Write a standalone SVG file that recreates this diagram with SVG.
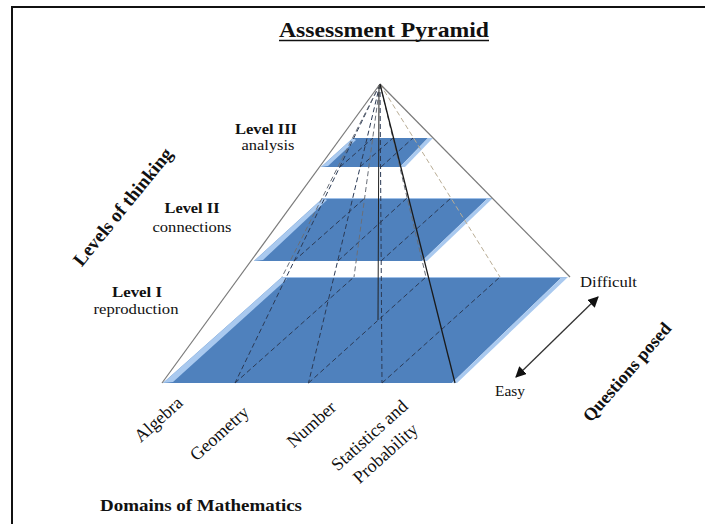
<svg xmlns="http://www.w3.org/2000/svg" width="705" height="524" viewBox="0 0 705 524">
<defs>
<style>
.t{font-family:"Liberation Serif","Times New Roman",serif;fill:#111}
.b{font-weight:bold}
.slab{fill:#4f81bd}
.bev{fill:#a9c9ef}
.dk{fill:none;stroke:#2b3a55;stroke-width:1;stroke-dasharray:5 3}
.lt{fill:none;stroke:#b9ad95;stroke-width:1;stroke-dasharray:5 3}
.gr{fill:none;stroke:#6a6f78;stroke-width:1;stroke-dasharray:5 3}
.edge{fill:none;stroke:#7a7a7a;stroke-width:1.2}
</style>
<marker id="ah" viewBox="0 0 10 10" refX="9" refY="5" markerWidth="11" markerHeight="11" markerUnits="userSpaceOnUse" orient="auto-start-reverse">
<path d="M0,0 L10,5 L0,10 Z" fill="#111"/>
</marker>
</defs>
<rect width="705" height="524" fill="#fff"/>
<path d="M12,524 V7 H705" fill="none" stroke="#111" stroke-width="2"/>

<g id="title">
<text class="t b" x="384" y="37" font-size="21" text-anchor="middle" textLength="210" lengthAdjust="spacingAndGlyphs">Assessment Pyramid</text>
<line x1="279" y1="40.5" x2="489" y2="40.5" stroke="#111" stroke-width="1.5"/>
</g>

<g id="level1">
<polygon class="slab" points="163,383 452,383 562,277 282,277"/>
<polygon class="bev" points="163,383 282,277 287,279 173,382"/>
<polygon class="bev" points="452,383 562,277 568,277 457,383"/>
<line x1="282" y1="277.5" x2="566" y2="277.5" stroke="#9fc0e8" stroke-width="1"/>
</g>
<g id="level2">
<polygon class="slab" points="254,261 422,261 488,198 323,198"/>
<polygon class="bev" points="254,261 323,198 327,200 263,260"/>
<polygon class="bev" points="422,261 488,198 493,198 427,261"/>
<line x1="323" y1="198.5" x2="492" y2="198.5" stroke="#9fc0e8" stroke-width="1"/>
</g>
<g id="level3">
<polygon class="slab" points="321,167 400,167 428,138 353,138"/>
<polygon class="bev" points="321,167 353,138 356,140 328,166"/>
<polygon class="bev" points="400,167 428,138 433,138 405,167"/>
</g>

<g id="connectors">
<line class="dk" x1="235" y1="383" x2="354" y2="277"/>
<line class="dk" x1="308.5" y1="383" x2="426" y2="277"/>
<line class="dk" x1="382" y1="383" x2="500" y2="277"/>
<line class="dk" x1="294" y1="261" x2="365" y2="198"/>
<line class="dk" x1="338" y1="261" x2="407" y2="198"/>
<line class="dk" x1="381" y1="261" x2="451" y2="198"/>
<line class="dk" x1="340" y1="167" x2="373" y2="138"/>
<line class="dk" x1="360" y1="167" x2="393" y2="138"/>
<line class="dk" x1="381" y1="167" x2="413" y2="138"/>
<line class="dk" x1="380" y1="84" x2="235" y2="383"/>
<line class="dk" x1="380" y1="84" x2="308.5" y2="383"/>
<line class="dk" x1="380" y1="84" x2="382" y2="383"/>
<line class="gr" x1="380" y1="84" x2="282" y2="277"/>
<line class="gr" x1="380" y1="84" x2="354" y2="277"/>
<line class="gr" x1="380" y1="84" x2="426" y2="277"/>
<line class="lt" x1="380" y1="84" x2="500" y2="277"/>
<line x1="379" y1="85" x2="378" y2="320" stroke="#222" stroke-width="1"/>
<line class="edge" x1="380" y1="84" x2="162" y2="383"/>
<line class="edge" x1="380" y1="84" x2="570" y2="277"/>
<line x1="380" y1="84" x2="455" y2="383" stroke="#1a1a1a" stroke-width="1.3"/>
<line x1="516" y1="377" x2="598" y2="297" stroke="#333" stroke-width="1.3" marker-start="url(#ah)" marker-end="url(#ah)"/>
</g>

<g id="level-labels">
<text class="t b" x="266" y="134" font-size="15.5" text-anchor="middle" textLength="62" lengthAdjust="spacingAndGlyphs">Level III</text>
<text class="t" x="268" y="150" font-size="15.5" text-anchor="middle" textLength="53" lengthAdjust="spacingAndGlyphs">analysis</text>
<text class="t b" x="192" y="213" font-size="15.5" text-anchor="middle" textLength="55" lengthAdjust="spacingAndGlyphs">Level II</text>
<text class="t" x="192" y="232" font-size="15.5" text-anchor="middle" textLength="79" lengthAdjust="spacingAndGlyphs">connections</text>
<text class="t b" x="137" y="297" font-size="15.5" text-anchor="middle" textLength="50" lengthAdjust="spacingAndGlyphs">Level I</text>
<text class="t" x="136" y="314" font-size="15.5" text-anchor="middle" textLength="85" lengthAdjust="spacingAndGlyphs">reproduction</text>
</g>

<g id="axis-labels">
<text class="t b" font-size="19" text-anchor="middle" transform="translate(123,207) rotate(-51)" y="6">Levels of thinking</text>
<text class="t b" font-size="18" text-anchor="middle" transform="translate(627,372) rotate(-49)" y="6">Questions posed</text>
<text class="t" x="580" y="287" font-size="15.5" textLength="57" lengthAdjust="spacingAndGlyphs">Difficult</text>
<text class="t" x="495" y="396" font-size="15.5" textLength="30" lengthAdjust="spacingAndGlyphs">Easy</text>
<text class="t b" x="100" y="511" font-size="17" textLength="202" lengthAdjust="spacingAndGlyphs">Domains of Mathematics</text>
</g>

<g id="domain-labels">
<text class="t" font-size="18" text-anchor="middle" transform="translate(159,420) rotate(-42)" y="5">Algebra</text>
<text class="t" font-size="18" text-anchor="middle" transform="translate(220,434) rotate(-42)" y="5">Geometry</text>
<text class="t" font-size="18" text-anchor="middle" transform="translate(312,425) rotate(-42)" y="5">Number</text>
<text class="t" font-size="18" text-anchor="middle" transform="translate(370,436) rotate(-42)" y="5">Statistics and</text>
<text class="t" font-size="18" text-anchor="middle" transform="translate(386,454) rotate(-42)" y="5">Probability</text>
</g>
</svg>
